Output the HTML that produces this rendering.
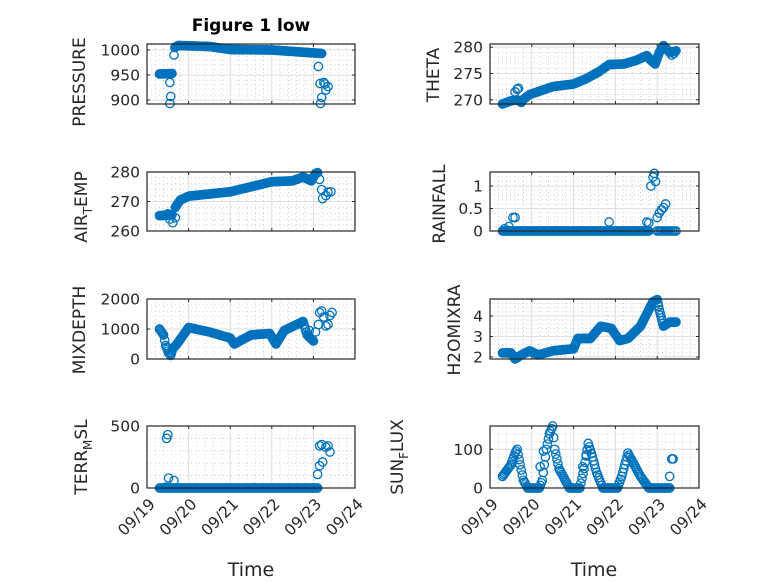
<!DOCTYPE html>
<html><head><meta charset="utf-8"><style>
html,body{margin:0;padding:0;background:#fff;}
svg{display:block;font-family:"DejaVu Sans","Liberation Sans",sans-serif;}
</style></head><body>
<svg id="s" width="778" height="583" viewBox="0 0 778 583" xmlns="http://www.w3.org/2000/svg">
<text x="251" y="31" text-anchor="middle" font-size="17" font-weight="bold" fill="#000">Figure 1 low</text>
<text x="251" y="576" text-anchor="middle" font-size="19" fill="#262626">Time</text>
<text x="594" y="576" text-anchor="middle" font-size="19" fill="#262626">Time</text>
<g font-size="17" fill="#262626">
<text transform="translate(85,82) rotate(-90)" text-anchor="middle">PRESSURE</text>
<text transform="translate(87,207) rotate(-90)" text-anchor="middle">AIR<tspan font-size="12" dy="5">T</tspan><tspan dy="-5">EMP</tspan></text>
<text transform="translate(85,330) rotate(-90)" text-anchor="middle">MIXDEPTH</text>
<text transform="translate(87,457) rotate(-90)" text-anchor="middle">TERR<tspan font-size="12" dy="5">M</tspan><tspan dy="-5">SL</tspan></text>
<text transform="translate(439,75) rotate(-90)" text-anchor="middle">THETA</text>
<text transform="translate(445,204) rotate(-90)" text-anchor="middle">RAINFALL</text>
<text transform="translate(460,330) rotate(-90)" text-anchor="middle">H2OMIXRA</text>
<text transform="translate(403,457) rotate(-90)" text-anchor="middle">SUN<tspan font-size="12" dy="5">F</tspan><tspan dy="-5">LUX</tspan></text>
</g>
</svg>
<script>
const NS="http://www.w3.org/2000/svg",S=document.getElementById('s');
function el(t,a,p){const e=document.createElementNS(NS,t);for(const k in a)e.setAttribute(k,a[k]);(p||S).appendChild(e);return e;}
function interp(pts,step){const o=[];for(let i=0;i<pts.length-1;i++){const[a,b]=pts[i],[c,d]=pts[i+1];const n=Math.max(1,Math.round((c-a)/step));for(let j=0;j<n;j++){o.push([a+(c-a)*j/n,b+(d-b)*j/n]);}}o.push(pts[pts.length-1]);return o;}
function ax(o){
 const {x0,x1,y0,y1,ymin,ymax,yt,ymn,lbl,pts,xlab}=o;
 const X=t=>x0+t*(x1-x0)/5,Y=v=>y1-(v-ymin)*(y1-y0)/(ymax-ymin);
 const g=el('g',{});
 for(let t=0;t<=5.001;t+=0.2){if(Math.abs(t-Math.round(t))<0.01)continue;el('line',{x1:X(t),x2:X(t),y1:y0,y2:y1,stroke:'#b8b8b8','stroke-width':0.6,'stroke-dasharray':'1,3'},g);}
 ymn.forEach(v=>{el('line',{x1:x0,x2:x1,y1:Y(v),y2:Y(v),stroke:'#b8b8b8','stroke-width':0.6,'stroke-dasharray':'1,3'},g);});
 for(let t=1;t<5;t++)el('line',{x1:X(t),x2:X(t),y1:y0,y2:y1,stroke:'#dedede','stroke-width':1},g);
 yt.forEach(v=>{el('line',{x1:x0,x2:x1,y1:Y(v),y2:Y(v),stroke:'#dedede','stroke-width':1},g);
   const tx=el('text',{x:x0-7,y:Y(v)+5.5,'text-anchor':'end','font-size':15.5,fill:'#262626'},g);tx.textContent=lbl(v);
   el('line',{x1:x0,x2:x0+3,y1:Y(v),y2:Y(v),stroke:'#262626'},g);el('line',{x1:x1,x2:x1-3,y1:Y(v),y2:Y(v),stroke:'#262626'},g);});
 for(let t=0;t<=5;t++){el('line',{x1:X(t),x2:X(t),y1:y1,y2:y1-3,stroke:'#262626'},g);el('line',{x1:X(t),x2:X(t),y1:y0,y2:y0+3,stroke:'#262626'},g);
   if(xlab){const tx=el('text',{transform:`translate(${X(t)+9},${y1+17}) rotate(-45)`,'text-anchor':'end','font-size':15.5,fill:'#262626'},g);tx.textContent='09/'+(19+t);}}
 let d='';const r=4.2;pts.forEach(([t,v])=>{const cx=X(t),cy=Y(v);d+=`M${(cx+r).toFixed(1)},${cy.toFixed(1)}a${r},${r} 0 1,0 ${-2*r},0a${r},${r} 0 1,0 ${2*r},0`;});
 el('path',{d,fill:'none',stroke:'#0072BD','stroke-width':1.3},g);
 el('rect',{x:x0,y:y0,width:x1-x0,height:y1-y0,fill:'none',stroke:'#262626','stroke-width':1.2},g);
}
const L=[147,355],R=[490,699],rows=[[44,104],[172,231],[299,359],[426,488]];
const rng=(a,b,s)=>{const o=[];for(let v=a;v<=b+1e-9;v+=s)o.push(+v.toFixed(3));return o;};
ax({x0:L[0],x1:L[1],y0:rows[0][0],y1:rows[0][1],ymin:892,ymax:1012,yt:[900,950,1000],ymn:rng(910,1010,10),lbl:v=>v,
pts:interp([[0.3,952],[0.6,953]],0.03).concat([[0.55,935],[0.57,907],[0.55,893],[0.65,990]],interp([[0.67,1005],[0.75,1009],[1.5,1007],[2.0,1001],[3,1000],[4.2,993]],0.015),[[4.12,967],[4.16,933],[4.2,905],[4.17,893],[4.25,935],[4.3,920],[4.35,927],[4.28,932]])});
ax({x0:L[0],x1:L[1],y0:rows[1][0],y1:rows[1][1],ymin:260,ymax:280,yt:[260,270,280],ymn:rng(262,278,2),lbl:v=>v,
pts:interp([[0.3,265.2],[0.6,265.5]],0.03).concat([[0.55,264],[0.62,262.8],[0.68,264.5],[0.5,265.8]],interp([[0.68,268],[0.8,270.5],[1.0,271.8],[2.0,273.3],[2.5,275],[3.0,276.7],[3.5,277],[3.75,278.3],[3.95,277],[4.05,279.5],[4.1,279.8]],0.015),[[4.15,277.5],[4.2,274],[4.22,271],[4.3,272],[4.35,273.2],[4.42,273.3]])});
ax({x0:L[0],x1:L[1],y0:rows[2][0],y1:rows[2][1],ymin:0,ymax:2000,yt:[0,1000,2000],ymn:rng(200,1800,200),lbl:v=>v,
pts:interp([[0.3,1000],[0.4,800],[0.45,450],[0.52,200],[0.57,120],[0.62,350],[0.72,500],[0.85,750],[1.0,1050],[1.5,900],[2.0,700],[2.1,500],[2.5,800],[2.95,850],[3.1,500],[3.3,950],[3.6,1150],[3.75,1250],[3.85,800],[4.0,600]],0.02).concat([[3.9,950],[4.05,900],[4.12,1150],[4.15,1550],[4.2,1600],[4.25,1400],[4.3,1100],[4.35,1150],[4.4,1450],[4.45,1550]])});
ax({x0:L[0],x1:L[1],y0:rows[3][0],y1:rows[3][1],ymin:0,ymax:500,yt:[0,500],ymn:rng(100,400,100),lbl:v=>v,xlab:true,
pts:interp([[0.3,0],[4.1,0]],0.015).concat([[0.45,5],[0.47,400],[0.5,430],[0.52,80],[0.65,60],[4.1,110],[4.15,180],[4.22,210],[4.15,340],[4.2,350],[4.3,330],[4.35,340],[4.4,290]])});
ax({x0:R[0],x1:R[1],y0:rows[0][0],y1:rows[0][1],ymin:269.2,ymax:280.6,yt:[270,275,280],ymn:rng(271,279,1),lbl:v=>v,
pts:interp([[0.3,269.2],[0.5,269.8],[0.65,270],[0.75,269.5]],0.02).concat([[0.65,272],[0.68,272.2],[0.6,271.5]],interp([[0.75,269.8],[0.95,271],[1.5,272.5],[2.0,273],[2.3,274],[2.6,275.3],[2.85,276.7],[3.2,276.8],[3.5,277.5],[3.75,278.4],[3.85,277.5],[3.95,276.8],[4.05,279],[4.15,280.3],[4.3,279],[4.45,279.3]],0.015),[[4.35,278.5],[4.4,278.8]])});
ax({x0:R[0],x1:R[1],y0:rows[1][0],y1:rows[1][1],ymin:0,ymax:1.31,yt:[0,0.5,1],ymn:rng(0.1,1.3,0.1),lbl:v=>v,
pts:interp([[0.3,0],[3.8,0]],0.015).concat([[0.35,0.05],[0.45,0.1],[0.55,0.3],[0.6,0.3],[2.85,0.2],[3.75,0.2],[3.8,0.18],[3.85,1.0],[3.9,1.2],[3.93,1.28],[3.96,1.1],[4.0,0.3],[4.05,0.4],[4.1,0.47],[4.15,0.52],[4.2,0.6]],interp([[4.0,0],[4.45,0]],0.04))});
ax({x0:R[0],x1:R[1],y0:rows[2][0],y1:rows[2][1],ymin:1.9,ymax:4.83,yt:[2,3,4],ymn:rng(2.2,4.8,0.2),lbl:v=>v,
pts:interp([[0.3,2.2],[0.5,2.2],[0.6,1.9],[0.75,2.1],[0.95,2.3],[1.15,2.1],[1.5,2.3],[2.0,2.4],[2.1,2.9],[2.4,2.9],[2.65,3.5],[2.9,3.4],[3.1,2.8],[3.3,2.9],[3.6,3.5],[3.8,4.3],[3.9,4.7],[4.0,4.8],[4.05,4.3],[4.1,3.9],[4.15,3.5],[4.3,3.7],[4.45,3.7]],0.015)});
ax({x0:R[0],x1:R[1],y0:rows[3][0],y1:rows[3][1],ymin:0,ymax:160,yt:[0,100],ymn:rng(20,140,20),lbl:v=>v,xlab:true,
pts:interp([[0.3,30],[0.5,60],[0.6,90],[0.65,100],[0.72,60],[0.8,20],[0.9,0],[1.18,0],[1.25,20],[1.35,100],[1.42,140],[1.5,160],[1.55,100],[1.65,50],[1.9,0],[2.15,0],[2.25,50],[2.35,115],[2.45,80],[2.55,40],[2.7,0],[3.05,0],[3.15,30],[3.3,90],[3.45,60],[3.6,30],[3.8,0],[4.3,0]],0.025).concat([[1.2,55],[1.28,95],[2.22,55],[2.3,85],[4.3,30],[4.35,75],[4.38,75]])});
</script>
</body></html>
